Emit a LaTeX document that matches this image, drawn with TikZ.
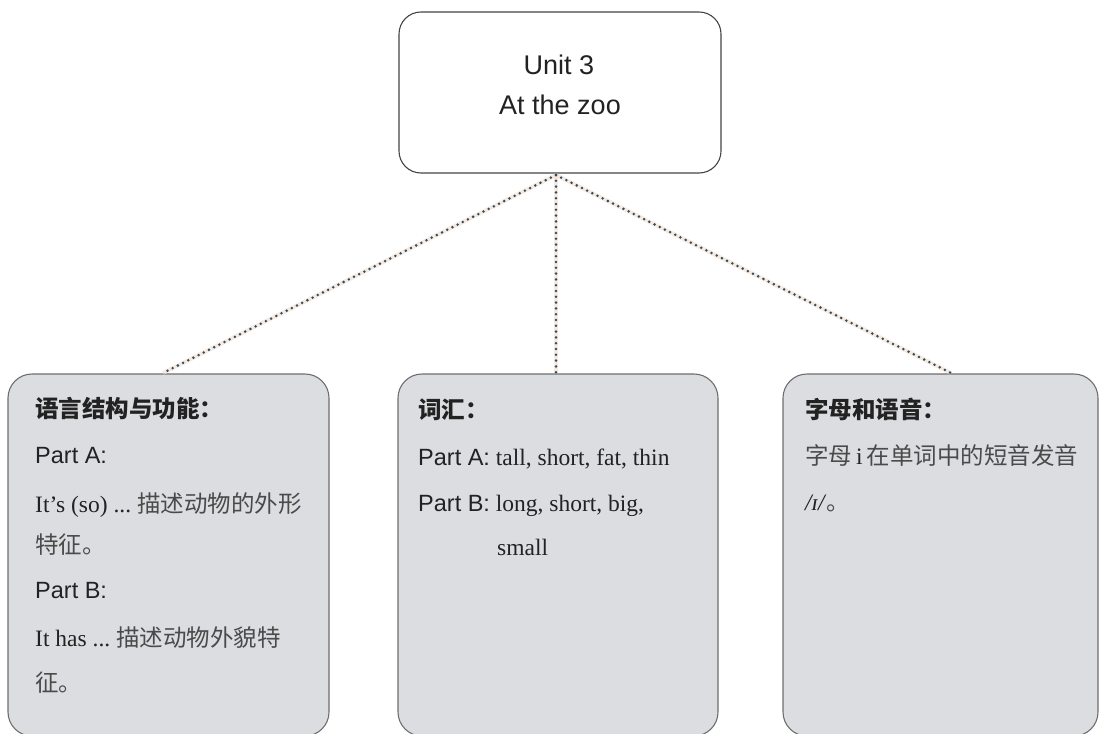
\documentclass[tikz,border=0pt]{standalone}
\usepackage{fontspec}
\setmainfont{Liberation Serif}
\newfontfamily\sansf{Liberation Sans}
\newfontfamily\cjk{Noto Sans CJK SC}
\definecolor{boxfill}{HTML}{DCDDE0}
\definecolor{boxline}{HTML}{6E6E6E}
\definecolor{topline}{HTML}{454545}
\definecolor{dotcol}{HTML}{24506A}
\definecolor{halo}{HTML}{F8DCC8}
\definecolor{txt}{HTML}{222222}
\definecolor{cjktxt}{HTML}{4A4A4A}
\begin{document}
\begin{tikzpicture}[x=1pt,y=-1pt,
  topbox/.style={draw=topline,line width=1.1pt,fill=white,rounded corners=22pt,rectangle,inner sep=0pt},
  subbox/.style={draw=boxline,line width=1.1pt,fill=boxfill,rounded corners=24pt,rectangle,inner sep=0pt},
  tline/.style={anchor=base west,inner sep=0pt,text=txt,font=\fontsize{23.5}{28}\selectfont},
  ttitle/.style={anchor=base,inner sep=0pt,text=txt,font=\sansf\fontsize{27}{32}\selectfont},
  link/.style={draw=dotcol,line width=2.8pt,line cap=round,dash pattern=on 0pt off 5.8pt},
  linkhalo/.style={draw=halo,line width=4pt,opacity=0.6}]
\useasboundingbox (0,0) rectangle (1099,733);
\fill[white] (0,0) rectangle (1099,733);
% boxes
\draw[topbox] (399,12) rectangle (721,173);
\node[inner sep=0pt,minimum width=322pt,minimum height=161pt] (top) at (560,92.5) {};
\draw[subbox] (8,374) rectangle (329,736);
\node[inner sep=0pt,minimum width=321pt,minimum height=362pt] (left) at (168.5,555) {};
\draw[subbox] (398,374) rectangle (718,736);
\node[inner sep=0pt,minimum width=320pt,minimum height=362pt] (mid) at (558,555) {};
\draw[subbox] (783,374) rectangle (1098,736);
\node[inner sep=0pt,minimum width=315pt,minimum height=362pt] (right) at (940.5,555) {};
% connector endpoints
\coordinate (hub) at (556,175);
\coordinate (eL) at (163,373);
\coordinate (eM) at (556,373);
\coordinate (eR) at (951,373);
\draw[linkhalo] (hub) -- (eL);
\draw[linkhalo] (hub) -- (eM);
\draw[linkhalo] (hub) -- (eR);
\draw[link] (hub) -- (eL);
\draw[link] (hub) -- (eM);
\draw[link] (hub) -- (eR);
% top text
\node[ttitle] (t1) at (559,75) {Unit 3};
\node[ttitle] (t2) at (560,114) {At the zoo};
% left box text
\node[tline] (l1) at (35,417) {\cjk\bfseries 语言结构与功能：};
\node[tline] (l2) at (35,463) {\sansf Part A:};
\node[tline] (l3) at (35,512) {It’s (so) ...\ {\cjk\color{cjktxt}描述动物的外形}};
\node[tline] (l4) at (35,553) {\cjk\color{cjktxt}特征。};
\node[tline] (l5) at (35,598) {\sansf Part B:};
\node[tline] (l6) at (35,646) {It has ...\ {\cjk\color{cjktxt}描述动物外貌特}};
\node[tline] (l7) at (35,691) {\cjk\color{cjktxt}征。};
% middle box text
\node[tline] (m1) at (418,418) {\cjk\bfseries 词汇：};
\node[tline] (m2) at (418,465) {{\sansf Part A:} tall, short, fat, thin};
\node[tline] (m3) at (418,511) {{\sansf Part B:} long, short, big,};
\node[tline] (m4) at (497,555) {small};
% right box text
\node[tline] (r1) at (805,418) {\cjk\bfseries 字母和语音：};
\node[tline] (r2) at (805,464) {\cjk\color{cjktxt}字母{\rmfamily\color{txt}\,i\,}在单词中的短音发音};
\node[tline] (r3) at (805,510) {\textit{/ɪ/}{\cjk\color{cjktxt}。}};
\end{tikzpicture}
\end{document}
